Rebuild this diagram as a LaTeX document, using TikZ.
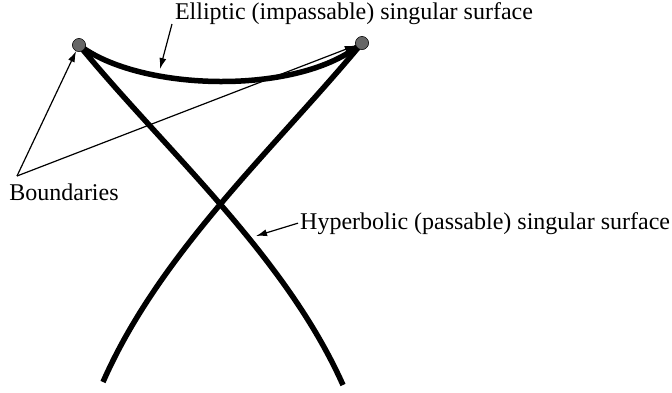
\documentclass[tikz,border=0pt]{standalone}
\usepackage{fontspec}
\setmainfont{Liberation Serif}
\usetikzlibrary{arrows.meta}
\begin{document}
\begin{tikzpicture}[x=1pt, y=-1pt, >={Latex[length=11pt, width=7pt]}, font=\fontsize{24}{28}\selectfont]
        \useasboundingbox (0,0) rectangle (672,392);
        % singular surfaces
        \node[circle, draw, fill=black!60, inner sep=0pt, minimum size=13pt] (lb) at (79,45) {};
        \node[circle, draw, fill=black!60, inner sep=0pt, minimum size=13pt] (rb) at (362,43) {};
        \coordinate (lend) at (343,385);
        \coordinate (rend) at (103,382);
        \coordinate (ellpt) at (160,69);
        \coordinate (hyppt) at (256,236);

        % labels
        \node[anchor=base, inner sep=0pt] (ell) at (354,19) {Elliptic (impassable) singular surface};
        \node[anchor=base] (bnd) at (64,200) {Boundaries};
        \node[anchor=base west, inner sep=2pt] (hyp) at (298,229) {Hyperbolic (passable) singular surface};
        \coordinate (bndtop) at (17,176);
        \coordinate (elltop) at (172,24);

        \draw[->, line width=1.2pt] (elltop) -- (ellpt);
        \draw[->, line width=1.2pt] (bndtop) -- (lb);
        \draw[->, line width=1.2pt] (bndtop) -- (rb);
        \draw[->, line width=1.2pt] (hyp.west) -- (hyppt);

        \draw[line width=5.5pt] (lb.center) .. controls (165,150) and (285,255) .. (lend);
        \draw[line width=5.5pt] (rb.center) .. controls (275,148) and (160,252) .. (rend);
        \draw[line width=5.5pt] (lb.center) .. controls (140,92) and (300,96) .. (rb.center);

        \node[circle, draw, fill=black!60, inner sep=0pt, minimum size=13pt] at (lb) {};
        \node[circle, draw, fill=black!60, inner sep=0pt, minimum size=13pt] at (rb) {};
    \end{tikzpicture}
\end{document}
